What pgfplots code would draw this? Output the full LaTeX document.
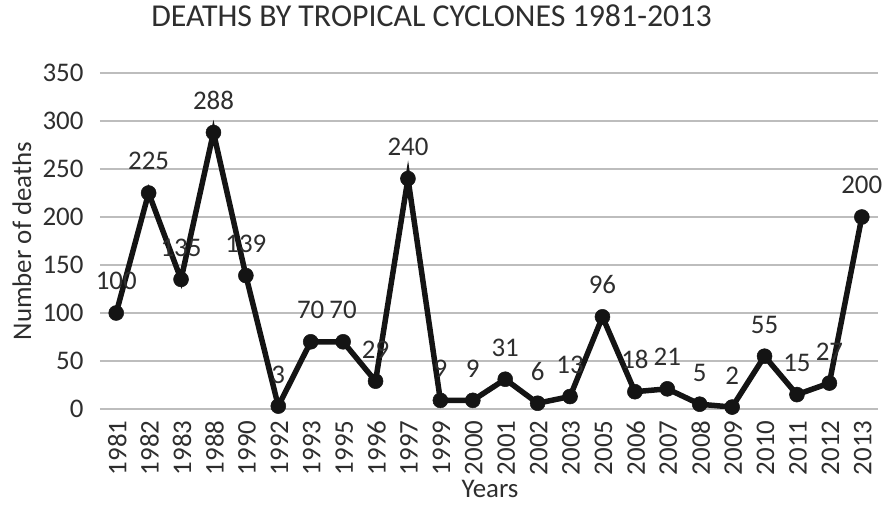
\documentclass[border=0pt]{standalone}
\usepackage{pgfplots}
\pgfplotsset{compat=1.18}
\usepackage{fontspec}
\setmainfont{Carlito}
\definecolor{txt}{HTML}{2E2E2E}
\definecolor{grd}{HTML}{BDBDBD}
\definecolor{ln}{HTML}{141414}
\begin{document}
\begin{tikzpicture}[x=1bp,y=1bp]
\path[use as bounding box] (-100,-97) rectangle (782,409);
\begin{axis}[
  at={(0,0)}, anchor=south west,
  scale only axis, width=778bp, height=336bp,
  xmin=-0.5, xmax=23.5, ymin=0, ymax=350,
  ytick={0,50,...,350},
  xtick={0,...,23},
  xticklabels={1981,1982,1983,1988,1990,1992,1993,1995,1996,1997,1999,2000,2001,2002,2003,2005,2006,2007,2008,2009,2010,2011,2012,2013},
  /pgf/number format/assume math mode=true,
  axis line style={draw=none},
  major tick length=0pt,
  ymajorgrids, grid style={grd, line width=1.6bp},
  tick label style={font=\fontsize{27}{30}\selectfont, text=txt},
  x tick label style={rotate=90, anchor=east, xshift=-8bp, yshift=-1bp},
  y tick label style={xshift=-13bp},
  xlabel={Years}, ylabel={Number of deaths},
  label style={font=\fontsize{27}{30}\selectfont, text=txt, inner sep=0pt},
  xlabel style={at={(axis description cs:0.5013,-0.239)}, anchor=center},
  ylabel style={at={(axis description cs:-0.1003,0.5)}, anchor=center},
  title={DEATHS BY TROPICAL CYCLONES 1981-2013},
  title style={at={(axis description cs:0.4261,1.1518)}, anchor=center, font=\fontsize{32}{36}\selectfont, text=txt},
  nodes near coords,
  every node near coord/.append style={anchor=base, yshift=23bp, font=\fontsize{27}{30}\selectfont, text=txt},
]
\addplot[ln, line width=5.5bp, mark=*, mark size=7.5bp, mark options={fill=ln, draw=ln, line width=0.5bp}] coordinates {
 (0,100) (1,225) (2,135) (3,288) (4,139) (5,3) (6,70) (7,70) (8,29) (9,240)
 (10,9) (11,9) (12,31) (13,6) (14,13) (15,96) (16,18) (17,21) (18,5) (19,2)
 (20,55) (21,15) (22,27) (23,200)
};
\end{axis}
\end{tikzpicture}
\end{document}
